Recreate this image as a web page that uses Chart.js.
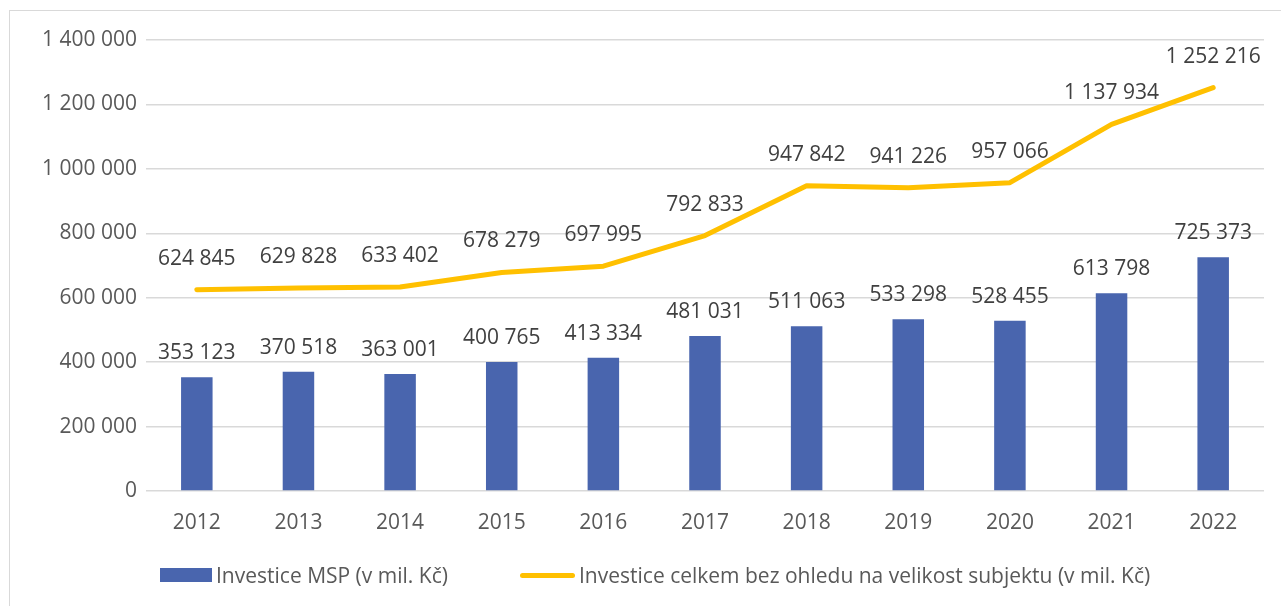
<!DOCTYPE html>
<html lang="cs">
<head>
<meta charset="UTF-8">
<title>Investice MSP</title>
<script src="https://cdn.jsdelivr.net/npm/chart.js"></script>
<style>
  html, body { margin: 0; padding: 0; background: #fff; overflow: hidden; }
  #wrap { position: relative; width: 1281px; height: 606px; }
  #frame { position: absolute; left: 9px; top: 10px; width: 1400px; height: 700px; border: 1px solid #d9d9d9; box-sizing: border-box; }
  #chart { position: absolute; left: 0; top: 0; }
  .lg { position: absolute; top: 562px; height: 26px; display: flex; align-items: center;
        font: 21px "Open Sans", sans-serif; color: #595959; white-space: nowrap; }
  .sw { display: inline-block; margin-right: 4px; }
</style>
</head>
<body>
<div id="wrap">
  <div id="frame"></div>
  <canvas id="chart" width="1281" height="606"></canvas>
  <div id="legend"></div>
</div>
<script>
// data
const years = ['2012', '2013', '2014', '2015', '2016', '2017', '2018', '2019', '2020', '2021', '2022'];
const msp = [353123, 370518, 363001, 400765, 413334, 481031, 511063, 533298, 528455, 613798, 725373];
const total = [624845, 629828, 633402, 678279, 697995, 792833, 947842, 941226, 957066, 1137934, 1252216];
const yTicks = [0, 200000, 400000, 600000, 800000, 1000000, 1200000, 1400000];
const labelMsp = 'Investice MSP (v mil. Kč)';
const labelTotal = 'Investice celkem bez ohledu na velikost subjektu (v mil. Kč)';

const BLUE = '#4965ae';
const GOLD = '#ffc000';
const FONT = '"Open Sans", sans-serif';

// 1234567 -> "1 234 567"
function fmt(v) {
    return String(v).replace(/\B(?=(\d{3})+(?!\d))/g, ' ');
}

// popisky hodnot nad sloupci a body
const valueLabels = {
    id: 'valueLabels',
    afterDatasetsDraw(chart) {
        const ctx = chart.ctx;
        ctx.save();
        ctx.font = '21px ' + FONT;
        ctx.fillStyle = '#404040';
        ctx.textAlign = 'center';
        ctx.textBaseline = 'alphabetic';
        chart.data.datasets.forEach((ds, i) => {
            const meta = chart.getDatasetMeta(i);
            const off = ds.type === 'line' ? 25 : 18;
            meta.data.forEach((el, j) => {
                ctx.fillText(fmt(ds.data[j]), el.x, el.y - off);
            });
        });
        ctx.restore();
    }
};

const chart = new Chart(document.getElementById('chart'), {
    data: {
        labels: years,
        datasets: [
            {
                type: 'line',
                label: labelTotal,
                data: total,
                borderColor: GOLD,
                backgroundColor: GOLD,
                borderWidth: 5,
                borderCapStyle: 'round',
                borderJoinStyle: 'round',
                pointRadius: 0,
                tension: 0,
                order: 0
            },
            {
                type: 'bar',
                label: labelMsp,
                data: msp,
                backgroundColor: BLUE,
                borderWidth: 0,
                categoryPercentage: 1,
                barPercentage: 0.31,
                order: 1
            }
        ]
    },
    options: {
        responsive: false,
        animation: false,
        layout: { padding: { left: 0, right: 17, top: 40, bottom: 55 } },
        plugins: {
            legend: { display: false },
            tooltip: { enabled: false }
        },
        scales: {
            x: {
                grid: { display: false },
                border: { display: false },
                ticks: { color: '#595959', font: { family: FONT, size: 21 }, padding: 11, maxRotation: 0 },
                afterFit(scale) { scale.height = 60; }
            },
            y: {
                min: 0,
                max: 1400000,
                afterBuildTicks(scale) { scale.ticks = yTicks.map(v => ({ value: v })); },
                grid: { color: '#d9d9d9', lineWidth: 1.5, drawTicks: false },
                border: { display: false },
                ticks: { color: '#595959', font: { family: FONT, size: 21 }, padding: 9, callback: v => fmt(v) },
                afterFit(scale) { scale.width = 146; }
            }
        }
    },
    plugins: [valueLabels]
});

// legenda
const legend = document.getElementById('legend');
[
    { text: labelMsp, left: 160, sw: 'width:52px;height:14px;background:' + BLUE },
    { text: labelTotal, left: 520, sw: 'width:55px;height:5px;border-radius:3px;background:' + GOLD }
].forEach(it => {
    const d = document.createElement('div');
    d.className = 'lg';
    d.style.left = it.left + 'px';
    d.innerHTML = '<span class="sw" style="' + it.sw + '"></span><span>' + it.text + '</span>';
    legend.appendChild(d);
});
</script>
</body>
</html>
